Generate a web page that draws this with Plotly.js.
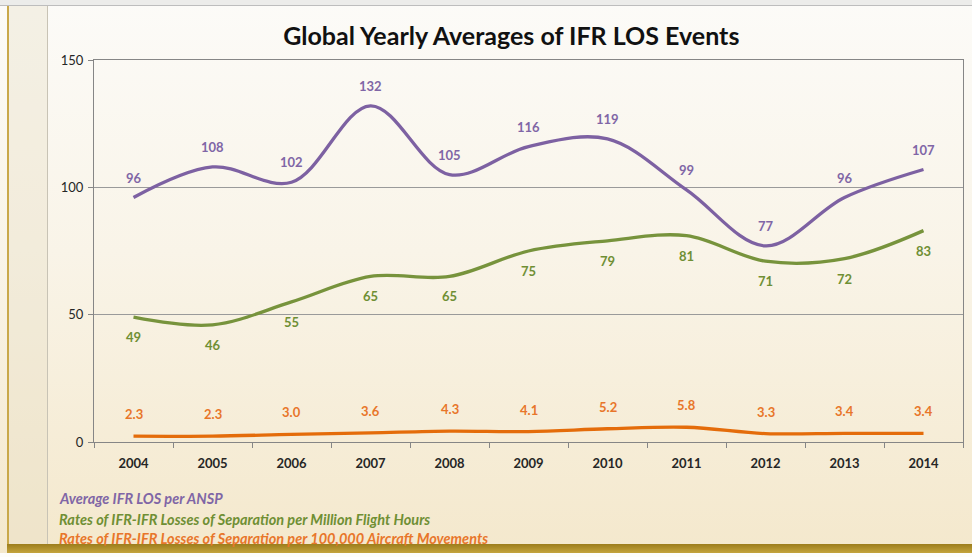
<!DOCTYPE html>
<html><head><meta charset="utf-8">
<script src="https://cdn.plot.ly/plotly-3.0.1.min.js"></script>
<style>
html,body{margin:0;padding:0;}
body{width:972px;height:557px;position:relative;overflow:hidden;
 background:linear-gradient(to bottom,#fcfbf8 0%,#f9f4e8 45%,#f4e8cc 100%);}
#topbar{position:absolute;left:0;top:0;width:972px;height:5px;background:#ececea;border-bottom:1px solid #bdbdbd;}
#leftstrip{position:absolute;left:7px;top:6px;width:38px;height:540px;background:rgba(230,222,195,0.35);border-left:2px solid #c9a84a;border-right:1px solid #c8c3b5;}
#goldbar{position:absolute;left:7px;top:544px;width:965px;height:9px;background:linear-gradient(to bottom,#9c7d1c,#c4a43c);}
#bottomwhite{position:absolute;left:0;top:553px;width:972px;height:4px;background:#fdfdfb;}
#chart{position:absolute;left:0;top:0;width:972px;height:557px;}
</style></head>
<body>
<div id="topbar"></div><div id="leftstrip"></div><div id="goldbar"></div><div id="bottomwhite"></div>
<div id="chart"></div>
<script>
const years = ["2004","2005","2006","2007","2008","2009","2010","2011","2012","2013","2014"];
const avgLosPerAnsp = [96,108,102,132,105,116,119,99,77,96,107];
const ratePerMillionFH = [49,46,55,65,65,75,79,81,71,72,83];
const ratePer100kMov = [2.3,2.3,3.0,3.6,4.3,4.1,5.2,5.8,3.3,3.4,3.4];
const seriesNames = ["Average IFR LOS per ANSP","Rates of IFR-IFR Losses of Separation per Million Flight Hours","Rates of IFR-IFR Losses of Separation per 100,000 Aircraft Movements"];

const cPurple = "#7d61a2", cGreen = "#77933c", cOrange = "#e46c0a";
const lblPurple = "#8066a6", lblGreen = "#6f8f34", lblOrange = "#e8762a";
const lblFont = "Lato, 'Open Sans', sans-serif";

function line(y, color, name){
  return {x: years, y: y, type: "scatter", mode: "lines", name: name,
    line: {color: color, width: 3.3, shape: "spline", smoothing: 1}, hoverinfo: "x+y"};
}
const data = [line(ratePer100kMov, cOrange, seriesNames[2]), line(ratePerMillionFH, cGreen, seriesNames[1]), line(avgLosPerAnsp, cPurple, seriesNames[0])];

const annotations = [];
years.forEach((yr, i) => {
  // category index i is the position of category years[i] on the axis
  annotations.push({x: i, y: avgLosPerAnsp[i], text: String(avgLosPerAnsp[i]), showarrow: false, yshift: 20,
    font: {family: lblFont, size: 13, color: lblPurple, weight: "bold"}});
  annotations.push({x: i, y: ratePerMillionFH[i], text: String(ratePerMillionFH[i]), showarrow: false, yshift: -20,
    font: {family: lblFont, size: 13, color: lblGreen, weight: "bold"}});
  annotations.push({x: i, y: ratePer100kMov[i], text: ratePer100kMov[i].toFixed(1), showarrow: false, yshift: 22,
    font: {family: lblFont, size: 13, color: lblOrange, weight: "bold"}});
});
const legendColors = [lblPurple, lblGreen, lblOrange];
const legendY = [498, 519, 538];
seriesNames.forEach((n, i) => {
  annotations.push({xref: "paper", yref: "paper", x: (57 - 94) / 869, xanchor: "left",
    y: (557 - 115 - legendY[i]) / 382, yanchor: "middle", text: "<b><i>" + n + "</i></b>", showarrow: false,
    font: {family: lblFont, size: 14.5, color: legendColors[i]}});
});

const layout = {
  width: 972, height: 557,
  margin: {l: 94, r: 9, t: 60, b: 115},
  paper_bgcolor: "rgba(0,0,0,0)", plot_bgcolor: "rgba(0,0,0,0)",
  showlegend: false,
  title: {text: "<b>Global Yearly Averages of IFR LOS Events</b>", x: 0.526, xanchor: "center", y: 0.935, yanchor: "middle",
    font: {family: lblFont, size: 25, color: "#111111"}},
  xaxis: {type: "category", range: [-0.5, years.length - 0.5], tickson: "boundaries", ticks: "outside", ticklen: 5, tickcolor: "#868686",
    ticklabelstandoff: 9,
    showline: true, linecolor: "#868686", linewidth: 1, mirror: true, showgrid: false,
    tickfont: {family: lblFont, size: 13, color: "#262626", weight: "bold"}},
  yaxis: {range: [0, 150], tickvals: [0, 50, 100, 150], ticks: "outside", ticklen: 5, tickcolor: "#868686",
    ticklabelstandoff: 2,
    showline: true, linecolor: "#868686", linewidth: 1, mirror: true, gridcolor: "#9a9a9a", gridwidth: 1,
    zeroline: false, tickfont: {family: lblFont, size: 13, color: "#262626"}},
  annotations: annotations
};
Plotly.newPlot("chart", data, layout, {displayModeBar: false, staticPlot: true});
</script>
</body></html>
